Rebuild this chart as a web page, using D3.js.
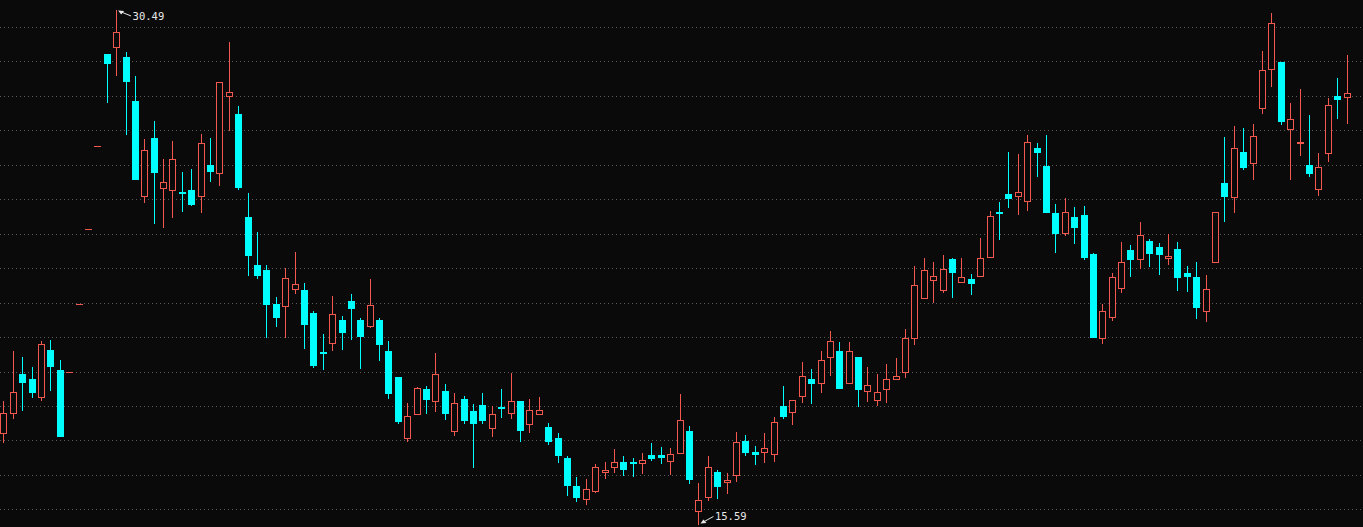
<!DOCTYPE html>
<html>
<head>
<meta charset="utf-8">
<script src="https://cdn.jsdelivr.net/npm/d3@7"></script>
<style>
  html, body { margin: 0; padding: 0; background: #0a0a0a; overflow: hidden; }
  svg { display: block; }
</style>
</head>
<body>
<svg id="chart" width="1363" height="527"></svg>
<script>
// ---- data (price values) ----
const opens = [18.21,18.79,19.93,19.78,19.27,20.62,20.05,19.98,21.95,24.14,26.55,29.20,29.41,29.12,27.86,25.09,26.78,25.32,25.26,25.21,
25.27,25.09,25.99,25.75,27.99,27.47,24.48,23.09,22.95,21.96,21.91,22.39,22.37,21.69,20.57,20.84,21.50,22.05,21.50,21.33,
21.50,20.60,19.83,18.08,18.78,19.49,19.15,19.44,18.28,19.19,18.86,19.03,18.37,18.97,18.79,19.15,18.47,18.76,18.40,18.08,
17.50,16.68,16.29,16.54,17.07,17.22,17.37,17.37,17.34,17.58,17.58,17.41,17.65,18.28,15.96,16.37,17.08,16.78,17.00,17.98,
17.66,17.67,17.62,19.00,18.82,19.30,19.78,19.68,20.41,20.60,19.66,20.41,19.44,19.17,19.49,19.78,19.98,20.96,22.13,22.65,
22.37,23.26,22.61,22.68,22.76,23.32,24.63,25.15,25.09,24.95,26.48,25.96,24.59,24.03,24.48,24.54,23.41,20.96,21.57,22.42,
23.53,23.26,23.79,23.61,23.30,23.56,22.85,22.75,21.77,23.19,25.46,25.07,26.36,26.04,27.66,28.77,28.99,27.03,26.62,25.99,
25.29,26.33,27.99,27.96];
const highs = [19.15,20.59,20.42,20.13,20.89,20.92,20.32,19.98,21.95,24.14,26.55,29.20,30.49,29.27,28.58,26.75,27.27,26.18,26.69,25.79,
25.88,26.90,26.79,28.40,29.57,27.71,25.17,24.06,23.09,22.15,23.00,23.48,22.56,21.77,21.08,22.19,21.61,22.25,21.56,22.69,
21.56,20.89,19.83,19.10,19.56,19.58,20.53,19.64,19.37,19.29,19.07,19.37,19.00,19.49,19.95,19.15,19.19,19.27,18.50,18.23,
17.55,16.95,16.88,17.31,17.38,17.74,17.55,17.50,17.65,17.92,17.80,17.79,19.35,18.42,16.77,17.55,17.14,17.05,18.24,18.16,
17.84,18.21,18.67,19.58,19.17,20.28,20.07,20.60,21.19,20.85,20.85,20.41,20.12,19.93,20.21,20.38,21.23,23.06,23.30,23.17,
23.38,23.30,23.29,22.83,23.87,24.67,24.92,26.37,26.30,26.86,26.62,26.86,24.85,25.03,24.77,24.80,23.45,21.96,22.85,23.75,
23.67,24.33,23.85,23.74,23.98,23.75,23.06,23.17,22.80,24.62,26.80,27.13,27.06,27.17,29.31,30.40,28.99,27.78,28.19,27.44,
26.33,27.93,28.51,29.19];
const lows = [17.96,18.66,18.89,19.27,19.18,19.46,18.14,19.98,21.95,24.14,26.55,27.81,28.59,26.88,25.59,24.93,24.30,24.20,24.49,24.66,
24.83,24.64,25.54,25.40,27.01,25.30,22.80,22.71,21.01,21.32,20.99,22.27,20.69,20.12,20.07,20.61,20.65,20.94,20.09,21.28,
20.34,19.22,18.50,17.99,18.78,18.81,18.86,18.61,18.16,18.50,17.22,18.52,18.13,18.67,18.65,17.99,18.25,18.76,17.90,17.38,
16.42,16.25,16.15,16.51,16.92,17.07,17.00,16.98,17.05,17.43,17.34,17.03,17.63,16.76,15.59,16.27,16.32,16.47,16.83,17.58,
17.31,17.38,17.40,18.64,18.47,19.11,19.10,19.42,19.90,19.53,19.66,19.01,19.15,19.03,19.13,19.78,19.85,20.79,22.13,22.03,
22.32,22.15,22.59,22.24,22.76,23.32,23.84,24.78,24.57,24.69,25.68,24.64,23.48,23.96,23.72,23.26,21.01,20.82,21.49,22.32,
22.78,23.00,23.07,22.82,23.11,22.37,22.35,21.55,21.48,23.19,24.38,24.64,25.88,25.59,27.51,28.29,27.17,25.59,26.28,25.68,
25.12,26.12,27.35,27.20];
const closes = [18.79,19.41,19.71,19.42,20.80,20.15,18.14,19.98,21.95,24.14,26.55,28.94,29.84,28.44,25.59,26.42,25.80,25.49,26.16,25.18,
24.87,26.63,25.83,28.40,28.10,25.36,23.38,22.80,21.96,21.59,22.71,22.53,21.38,20.19,20.55,21.66,21.16,21.85,21.04,21.92,
20.80,19.37,18.57,18.71,19.51,19.20,19.93,18.81,19.08,18.60,18.52,18.59,18.76,18.94,19.15,18.30,18.88,18.87,17.99,17.58,
16.71,16.37,16.59,17.24,17.14,17.37,17.16,17.35,17.43,17.50,17.53,17.60,18.59,16.89,16.26,17.22,16.69,16.84,17.95,17.67,
17.60,17.77,18.53,18.72,19.17,19.87,19.68,20.34,20.89,19.53,20.60,19.49,19.60,19.40,19.78,19.88,20.96,22.50,22.94,22.76,
22.97,22.90,22.73,22.56,23.29,24.50,24.59,25.04,25.20,26.65,26.38,24.64,24.03,24.62,24.20,23.33,21.01,21.75,22.73,23.17,
23.26,23.95,23.43,23.40,23.35,22.73,22.78,21.86,22.39,24.62,25.10,26.48,25.94,26.83,28.75,30.10,27.28,27.32,26.67,25.75,
25.93,27.73,27.90,28.09];
const gridLevels = [16,17,18,19,20,21,22,23,24,25,26,27,28,29,30];

// ---- layout ----
const W = 1363, H = 527;
const BG = "#0a0a0a", UP = "#f2584e", DOWN = "#00ffff", GRID = "#5a5a5a";

const candles = opens.map((o, i) => ({ i, o, h: highs[i], l: lows[i], c: closes[i] }));

const svg = d3.select("#chart").attr("shape-rendering", "crispEdges");
svg.append("rect").attr("width", W).attr("height", H).attr("fill", BG);

const x = d3.scaleLinear().domain([0, candles.length - 1]).range([3.4, 1346.5]);
const y = d3.scaleLinear()
  .domain([d3.min(lows), d3.max(highs)])
  .range([523.5, 10]);

const px = i => Math.round(x(i));
const py = v => Math.round(y(v));

// grid
svg.append("g").selectAll("line").data(gridLevels).join("line")
  .attr("x1", 0).attr("x2", W)
  .attr("y1", d => py(d) + 0.5).attr("y2", d => py(d) + 0.5)
  .attr("stroke", GRID).attr("stroke-width", 1)
  .attr("stroke-dasharray", "1,3");

const g = svg.append("g");
const up = d => d.c >= d.o;
const col = d => up(d) ? UP : DOWN;

// wicks
g.selectAll("line.wick").data(candles).join("line")
  .attr("class", "wick")
  .attr("x1", d => px(d.i) + 0.5).attr("x2", d => px(d.i) + 0.5)
  .attr("y1", d => py(d.h)).attr("y2", d => py(d.l) + 1)
  .attr("stroke", col).attr("stroke-width", 1);

// bodies
candles.forEach(d => {
  const cx = px(d.i);
  const yt = py(Math.max(d.o, d.c)), yb = py(Math.min(d.o, d.c));
  if (yb - yt < 1) {
    g.append("line")
      .attr("x1", cx - 3).attr("x2", cx + 4)
      .attr("y1", yt + 0.5).attr("y2", yt + 0.5)
      .attr("stroke", col(d)).attr("stroke-width", 1);
  } else if (up(d)) {
    g.append("rect")
      .attr("x", cx - 2.5).attr("y", yt + 0.5)
      .attr("width", 6).attr("height", yb - yt)
      .attr("fill", BG).attr("stroke", UP).attr("stroke-width", 1);
  } else {
    g.append("rect")
      .attr("x", cx - 3).attr("y", yt)
      .attr("width", 7).attr("height", yb - yt + 1)
      .attr("fill", DOWN);
  }
});

// extreme annotations
const ann = svg.append("g").attr("shape-rendering", "auto");
function annotate(i, v, isHigh) {
  const tx = x(i), ty = y(v);
  const tipX = tx + 2, tipY = isHigh ? ty + 0.5 : ty;
  const endX = tx + 15, endY = isHigh ? ty + 6 : ty - 7;
  ann.append("line")
    .attr("x1", tipX + 2).attr("y1", tipY + (isHigh ? 1 : -1))
    .attr("x2", endX).attr("y2", endY)
    .attr("stroke", "#e8e8e8").attr("stroke-width", 1);
  const hp = isHigh
    ? [[tipX, tipY], [tipX + 6, tipY + 0.5], [tipX + 3, tipY + 4]]
    : [[tipX, tipY], [tipX + 3, tipY - 4], [tipX + 6, tipY - 0.5]];
  ann.append("polygon").attr("points", hp.map(p => p.join(",")).join(" "))
    .attr("fill", "#e8e8e8");
  ann.append("text")
    .attr("x", tx + 16.5).attr("y", isHigh ? ty + 9.5 : ty - 4)
    .attr("fill", "#e8e8e8")
    .attr("font-family", "'DejaVu Sans Mono', 'Liberation Mono', monospace")
    .attr("font-size", "10.5px")
    .text(d3.format(".2f")(v));
}
annotate(d3.maxIndex(highs), d3.max(highs), true);
annotate(d3.minIndex(lows), d3.min(lows), false);
</script>
</body>
</html>
